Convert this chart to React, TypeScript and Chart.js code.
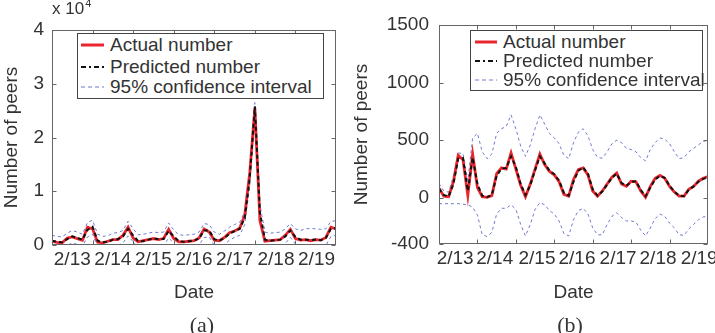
import React, { useEffect, useRef } from "react";
import { Chart, registerables } from "chart.js";

Chart.register(...registerables);

// ---------- data (3-hour steps, 8 samples per day) ----------
const STEP_DAYS = 1 / 8;
const dateLabels = ["2/13", "2/14", "2/15", "2/16", "2/17", "2/18", "2/19"];
const dateTickPosA = [0.5, 1.5, 2.5, 3.5, 4.5, 5.52, 6.52];
const dateTickPosB = [0.42, 1.45, 2.55, 3.59, 4.66, 5.7, 6.77];
const dayMarks = [1, 2, 3, 4, 5, 6];
const yTicksA = [0, 1, 2, 3, 4];
const yTicksB = [-400, 0, 500, 1000, 1500];

// panel (a), number of peers in units of 10^4
const actualA = [0.07, 0.05, 0.04, 0.13, 0.15, 0.12, 0.09, 0.33, 0.30, 0.05, 0.04, 0.07, 0.10, 0.10, 0.18, 0.33, 0.13, 0.06, 0.08, 0.10, 0.12, 0.10, 0.12, 0.29, 0.12, 0.06, 0.06, 0.07, 0.08, 0.13, 0.30, 0.24, 0.09, 0.08, 0.14, 0.23, 0.26, 0.31, 0.55, 1.35, 2.55, 0.45, 0.07, 0.08, 0.09, 0.10, 0.18, 0.29, 0.12, 0.09, 0.10, 0.08, 0.10, 0.09, 0.14, 0.33, 0.30];
const predictedA = [0.08, 0.06, 0.05, 0.11, 0.16, 0.13, 0.10, 0.28, 0.34, 0.08, 0.05, 0.06, 0.10, 0.11, 0.16, 0.30, 0.18, 0.07, 0.07, 0.10, 0.12, 0.11, 0.11, 0.26, 0.16, 0.07, 0.06, 0.07, 0.08, 0.12, 0.27, 0.27, 0.11, 0.08, 0.13, 0.21, 0.26, 0.30, 0.50, 1.25, 2.58, 0.60, 0.10, 0.08, 0.09, 0.10, 0.16, 0.27, 0.15, 0.10, 0.10, 0.09, 0.10, 0.09, 0.13, 0.30, 0.31];
const upperA = [0.18, 0.16, 0.15, 0.22, 0.27, 0.24, 0.20, 0.42, 0.46, 0.20, 0.16, 0.17, 0.22, 0.23, 0.27, 0.44, 0.30, 0.19, 0.20, 0.22, 0.24, 0.23, 0.24, 0.41, 0.28, 0.19, 0.18, 0.19, 0.20, 0.24, 0.40, 0.38, 0.24, 0.20, 0.26, 0.33, 0.38, 0.42, 0.62, 1.40, 2.65, 0.75, 0.24, 0.22, 0.23, 0.24, 0.30, 0.40, 0.30, 0.27, 0.30, 0.31, 0.30, 0.29, 0.30, 0.44, 0.45];
const lowerA = [-0.04, -0.06, -0.07, -0.01, 0.04, 0.01, -0.02, 0.15, 0.20, -0.04, -0.07, -0.06, -0.02, -0.01, 0.04, 0.17, 0.06, -0.05, -0.05, -0.02, 0.00, -0.01, -0.01, 0.13, 0.04, -0.05, -0.06, -0.05, -0.04, 0.00, 0.14, 0.15, -0.01, -0.04, 0.01, 0.09, 0.14, 0.18, 0.38, 1.10, 2.50, 0.46, -0.03, -0.05, -0.04, -0.03, 0.03, 0.14, 0.02, -0.03, -0.04, -0.05, -0.04, -0.05, -0.01, 0.16, 0.18];

// panel (b), number of peers
const actualB = [85, 15, 10, 140, 370, 330, 20, 380, 90, 10, 5, 20, 210, 260, 250, 390, 250, 110, 10, 120, 250, 380, 290, 230, 200, 140, 30, 15, 160, 245, 260, 200, 60, 15, 60, 120, 180, 215, 120, 100, 145, 140, 60, 5, 100, 170, 195, 170, 100, 50, 15, 15, 75, 100, 145, 170, 185];
const predictedB = [80, 25, 12, 120, 340, 345, 60, 350, 120, 20, 8, 25, 190, 255, 260, 360, 270, 120, 25, 110, 240, 360, 300, 235, 205, 150, 45, 20, 140, 235, 265, 210, 75, 20, 55, 115, 175, 210, 130, 105, 140, 145, 70, 15, 90, 160, 190, 175, 105, 55, 20, 15, 70, 100, 140, 165, 180];
const upperB = [125, 60, 50, 190, 390, 385, 150, 520, 560, 400, 340, 380, 560, 600, 620, 720, 600, 450, 360, 460, 600, 720, 640, 560, 520, 470, 370, 340, 480, 570, 600, 540, 420, 350, 345, 400, 470, 500, 480, 430, 420, 400, 350, 320, 420, 480, 520, 510, 470, 400, 340, 350, 400, 430, 460, 490, 500];
const lowerB = [-50, -50, -50, -50, -50, -55, -60, -80, -150, -320, -335, -300, -140, -90, -90, -60, -100, -230, -330, -230, -100, -40, -60, -110, -140, -200, -310, -330, -190, -110, -90, -140, -260, -320, -320, -230, -160, -130, -170, -200, -200, -210, -280, -330, -260, -180, -140, -160, -220, -260, -320, -325, -270, -230, -190, -165, -160];

// ---------- styling ----------
const FONT = "'Liberation Sans', Arial, Helvetica, sans-serif";
const SERIF = "'Liberation Serif', 'Times New Roman', serif";
const TEXT = "#333333";
const FRAME = "#666666";
const RED = "#e8262e";
const BLUE = "rgba(85,100,200,0.85)";

const framePlugin = {
  id: "frameTicks",
  afterDatasetsDraw(chart: any) {
    const { ctx, chartArea, scales } = chart;
    const l = Math.round(chartArea.left) + 0.5;
    const r = Math.round(chartArea.right) - 0.5;
    const t = Math.round(chartArea.top) + 0.5;
    const b = Math.round(chartArea.bottom) - 0.5;
    ctx.save();
    ctx.strokeStyle = FRAME;
    ctx.lineWidth = 1;
    ctx.strokeRect(l, t, r - l, b - t);
    ctx.beginPath();
    dayMarks.forEach((d) => {
      const x = Math.round(scales.x.getPixelForValue(d)) + 0.5;
      ctx.moveTo(x, b);
      ctx.lineTo(x, b - 4);
      ctx.moveTo(x, t);
      ctx.lineTo(x, t + 4);
    });
    scales.y.ticks.forEach((tk: any) => {
      const y = Math.round(scales.y.getPixelForValue(tk.value)) + 0.5;
      ctx.moveTo(l, y);
      ctx.lineTo(l + 4, y);
      ctx.moveTo(r, y);
      ctx.lineTo(r - 4, y);
    });
    ctx.stroke();
    ctx.restore();
  },
};

const exponentPlugin = {
  id: "exponentLabel",
  afterDraw(chart: any) {
    const { ctx, chartArea } = chart;
    ctx.save();
    ctx.fillStyle = TEXT;
    ctx.textAlign = "left";
    ctx.textBaseline = "alphabetic";
    ctx.font = `17px ${FONT}`;
    ctx.fillText("x 10", chartArea.left, 14);
    const w = ctx.measureText("x 10").width;
    ctx.font = `11px ${FONT}`;
    ctx.fillText("4", chartArea.left + w + 1, 7);
    ctx.restore();
  },
};

function datasets(actual: number[], predicted: number[], upper: number[], lower: number[]) {
  const pts = (arr: number[]) => arr.map((v, i) => ({ x: i * STEP_DAYS, y: v }));
  const base = { pointRadius: 0, fill: false, tension: 0 };
  return [
    { ...base, label: "Predicted number", data: pts(predicted), borderColor: "#111111", borderWidth: 2, borderDash: [4, 3], order: 0 },
    { ...base, label: "Actual number", data: pts(actual), borderColor: RED, borderWidth: 2.8, order: 1 },
    { ...base, label: "95% confidence interval", data: pts(upper), borderColor: BLUE, borderWidth: 1, borderDash: [3, 3], order: 2 },
    { ...base, label: "95% confidence interval (lower)", data: pts(lower), borderColor: BLUE, borderWidth: 1, borderDash: [3, 3], order: 3 },
  ];
}

type PanelSpec = {
  sets: any[];
  xTickPos: number[];
  yTicks: number[];
  padTop: number;
  padRight: number;
  yWidth: number;
  yPad: number;
  xHeight: number;
  extra: any[];
};

function buildConfig(p: PanelSpec): any {
  const font = { family: FONT, size: 19 };
  return {
    type: "line",
    data: { datasets: p.sets },
    options: {
      responsive: false,
      animation: false,
      events: [],
      layout: { padding: { left: 0, top: p.padTop, right: p.padRight, bottom: 0 } },
      plugins: { legend: { display: false }, tooltip: { enabled: false } },
      scales: {
        x: {
          type: "linear",
          min: 0,
          max: 7,
          grid: { display: false, drawTicks: false },
          border: { display: false },
          afterBuildTicks: (s: any) => {
            s.ticks = p.xTickPos.map((v) => ({ value: v }));
          },
          ticks: {
            autoSkip: false,
            maxRotation: 0,
            minRotation: 0,
            padding: 3,
            color: TEXT,
            font,
            callback: (_v: any, i: number) => dateLabels[i],
          },
          title: { display: true, text: "Date", color: TEXT, font, padding: { top: 0, bottom: 29 } },
          afterFit: (s: any) => {
            s.height = p.xHeight;
            s.paddingLeft = 0;
            s.paddingRight = 0;
          },
        },
        y: {
          type: "linear",
          min: p.yTicks[0],
          max: p.yTicks[p.yTicks.length - 1],
          grid: { display: false, drawTicks: false },
          border: { display: false },
          afterBuildTicks: (s: any) => {
            s.ticks = p.yTicks.map((v) => ({ value: v }));
          },
          ticks: { padding: p.yPad, color: TEXT, font, callback: (v: any) => String(v) },
          title: { display: true, text: "Number of peers", color: TEXT, font, padding: { top: 0, bottom: 0 } },
          afterFit: (s: any) => {
            s.width = p.yWidth;
            s.paddingTop = 0;
            s.paddingBottom = 0;
          },
        },
      },
    },
    plugins: [framePlugin, ...p.extra],
  };
}

function ChartPanel({ left, width, spec }: { left: number; width: number; spec: PanelSpec }) {
  const ref = useRef<HTMLCanvasElement | null>(null);
  useEffect(() => {
    if (!ref.current) return;
    const chart = new Chart(ref.current, buildConfig(spec));
    return () => chart.destroy();
  }, []);
  return (
    <canvas
      ref={ref}
      width={width}
      height={333}
      style={{ position: "absolute", left, top: 0, width, height: 333, display: "block" }}
    />
  );
}

type LegendProps = {
  left: number;
  top: number;
  width: number;
  height: number;
  rows: number[];
  x1: number;
  x2: number;
  textX: number;
};

function Legend({ left, top, width, height, rows, x1, x2, textX }: LegendProps) {
  const labels = ["Actual number", "Predicted number", "95% confidence interval"];
  return (
    <div
      style={{
        position: "absolute",
        left,
        top,
        width,
        height,
        border: "1px solid #444",
        boxSizing: "border-box",
        background: "#fff",
      }}
    >
      <svg width={width} height={height} style={{ position: "absolute", left: -1, top: -1, overflow: "visible" }}>
        <line x1={x1} x2={x2} y1={rows[0]} y2={rows[0]} stroke={RED} strokeWidth={3} />
        <line x1={x1} x2={x2} y1={rows[1]} y2={rows[1]} stroke="#111" strokeWidth={2} strokeDasharray="5 3 2 3" />
        <line x1={x1} x2={x2} y1={rows[2]} y2={rows[2]} stroke={BLUE} strokeWidth={1.2} strokeDasharray="4 3" />
      </svg>
      {labels.map((t, i) => (
        <span
          key={t}
          style={{
            position: "absolute",
            left: textX - 1,
            top: rows[i] - 12,
            lineHeight: "22px",
            fontSize: 19,
            fontFamily: FONT,
            color: TEXT,
            whiteSpace: "nowrap",
          }}
        >
          {t}
        </span>
      ))}
    </div>
  );
}

function Caption({ cx, text }: { cx: number; text: string }) {
  return (
    <div
      style={{
        position: "absolute",
        left: cx - 30,
        width: 60,
        top: 312,
        lineHeight: "25px",
        textAlign: "center",
        fontFamily: SERIF,
        fontSize: 22,
        color: TEXT,
      }}
    >
      {text}
    </div>
  );
}

export default function App() {
  const specA: PanelSpec = {
    sets: datasets(actualA, predictedA, upperA, lowerA),
    xTickPos: dateTickPosA,
    yTicks: yTicksA,
    padTop: 30,
    padRight: 14,
    yWidth: 52,
    yPad: 8,
    xHeight: 88,
    extra: [exponentPlugin],
  };
  const specB: PanelSpec = {
    sets: datasets(actualB, predictedB, upperB, lowerB),
    xTickPos: dateTickPosB,
    yTicks: yTicksB,
    padTop: 25,
    padRight: 7,
    yWidth: 89,
    yPad: 10,
    xHeight: 89,
    extra: [],
  };
  return (
    <div style={{ position: "absolute", left: 0, top: 0, width: 715, height: 333, background: "#fff", overflow: "hidden" }}>
      <ChartPanel left={0} width={350} spec={specA} />
      <ChartPanel left={350} width={365} spec={specB} />
      <Legend left={77} top={33} width={247} height={66} rows={[12, 34, 54]} x1={4} x2={27} textX={33} />
      <Legend left={470} top={30} width={233} height={61} rows={[12, 31, 50]} x1={5} x2={27} textX={33} />
      <Caption cx={202} text="(a)" />
      <Caption cx={570} text="(b)" />
    </div>
  );
}
